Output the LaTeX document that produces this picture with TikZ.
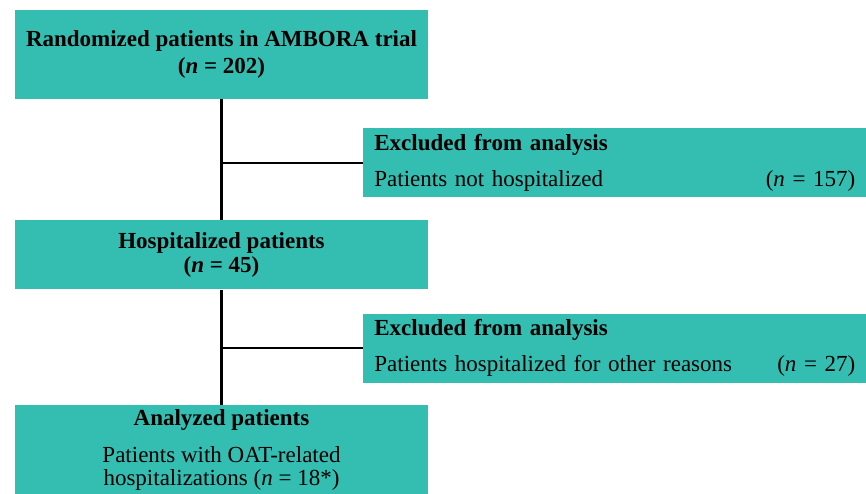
\documentclass[tikz,border=0pt]{standalone}
\usepackage{fontspec}
\setmainfont{Liberation Serif}
\usetikzlibrary{positioning, calc}
\definecolor{boxteal}{RGB}{52,190,178}
\tikzset{%
	stage/.style={fill=boxteal, minimum width=413pt, inner sep=0pt, align=center,%
		font=\fontsize{23}{24}\selectfont},
	excl/.style={fill=boxteal, minimum height=69pt, inner xsep=11pt, inner ysep=0pt,%
		text width=481pt, align=left, font=\fontsize{23}{24}\selectfont},
	trunk/.style={line width=2.5pt},
	branch/.style={line width=2.3pt}
}
\begin{document}
\begin{tikzpicture}[x=1pt, y=-1pt]
	\useasboundingbox (0,0) rectangle (866,493);

	%main flow
	\node[stage, minimum height=89pt] (rand) at (221.5,54.5)
		{\textbf{Randomized patients in AMBORA trial}\\[3pt] \textbf{(\textit{n} = 202)}};
	\node[stage, minimum height=69pt, below=121pt of rand] (hosp)
		{\textbf{Hospitalized patients}\\[0pt] \textbf{(\textit{n} = 45)}};
	\node[stage, minimum height=90pt, below=115pt of hosp] (anal)
		{\textbf{Analyzed patients}\\[13pt] Patients with OAT-related\\[-0.5pt] hospitalizations (\textit{n} = 18*)};

	%exclusions
	\node[excl, below right=29pt and -65pt of rand] (excl1)
		{\textbf{Excluded from analysis}\\[12pt] Patients not hospitalized\hfill(\textit{n} = 157)};
	\node[excl, below=116pt of excl1] (excl2)
		{\textbf{Excluded from analysis}\\[12pt] Patients hospitalized for other reasons\hfill(\textit{n} = 27)\hspace*{6pt}};

	\coordinate (split1) at (rand |- excl1);
	\coordinate (split2) at (hosp |- excl2);

	\draw[trunk] (rand) -- (hosp);
	\draw[trunk] (hosp) -- (anal);
	\draw[branch] (split1) -- (excl1);
	\draw[branch] (split2) -- (excl2);

\end{tikzpicture}
\end{document}
